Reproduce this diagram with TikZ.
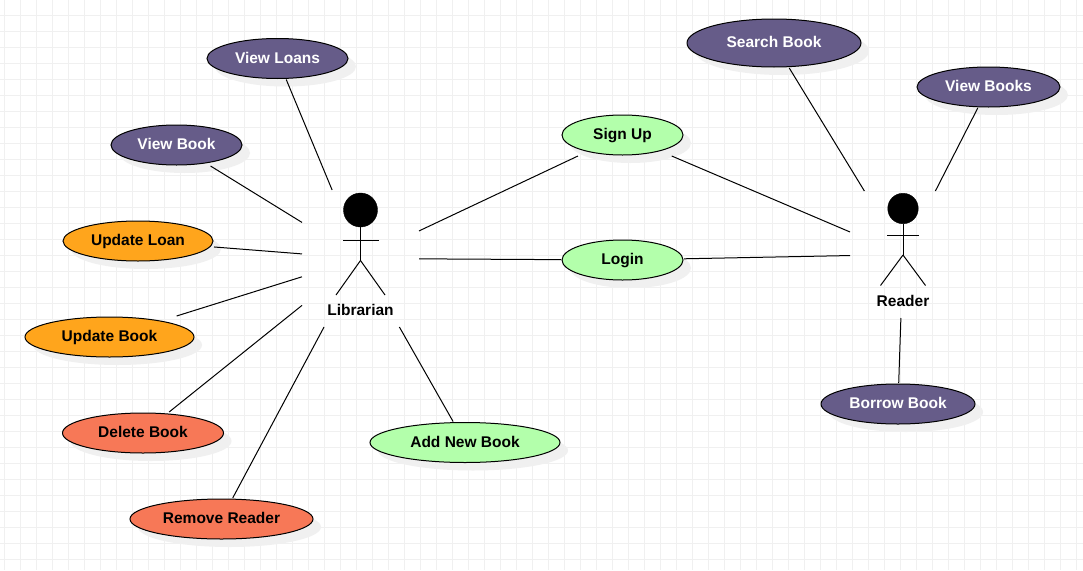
\documentclass[tikz,border=0pt]{standalone}
\usepackage{fontspec}
\setmainfont{Liberation Sans}
\usetikzlibrary{shapes.geometric,shadows,fit}
\definecolor{gridcol}{HTML}{F0F0F0}
\definecolor{shadowcol}{HTML}{F0F0F0}
\definecolor{purplecol}{HTML}{665C89}
\definecolor{orangecol}{HTML}{FFA51C}
\definecolor{tomatocol}{HTML}{F77857}
\definecolor{greencol}{HTML}{B3FFAB}
\tikzset{
  usecase/.style={ellipse, draw=black, line width=1pt, inner sep=0pt, minimum height=40pt,
    text height=11pt, text depth=2pt,
    font=\bfseries\fontsize{15.5}{17}\selectfont,
    drop shadow={shadow xshift=8pt, shadow yshift=-8pt, fill=shadowcol, opacity=1}},
  casebox/.style={rectangle, inner sep=0.5pt, outer sep=0pt},
  actorbox/.style={rectangle, inner sep=0pt, outer sep=0pt},
  actorhead/.style={circle, fill=black, draw=black, inner sep=0pt},
  actorlabel/.style={inner sep=0pt, font=\bfseries\fontsize{15.5}{17}\selectfont},
  link/.style={line width=1pt, draw=black},
  gridline/.style={line width=1pt, draw=gridcol}
}
\begin{document}
\begin{tikzpicture}[x=1pt,y=-1pt]
\useasboundingbox[fill=white] (0,0) rectangle (1083,570);
\foreach \gx in {0,...,67} {\draw[gridline] (4.5+16*\gx,0) -- (4.5+16*\gx,570);}
\foreach \gy in {0,...,34} {\draw[gridline] (0,15.5+16*\gy) -- (1083,15.5+16*\gy);}

\node[usecase, minimum width=141pt, fill=purplecol, text=white] (vloans) at (277.5,58.5){View Loans};
\node[usecase, minimum width=131pt, fill=purplecol, text=white] (vbook) at (176.5,145){View Book};
\node[usecase, minimum width=150pt, fill=orangecol] (uloan) at (138,241){Update Loan};
\node[usecase, minimum width=169pt, fill=orangecol] (ubook) at (109.5,337){Update Book};
\node[usecase, minimum width=161pt, fill=tomatocol] (dbook) at (143,433){Delete Book};
\node[usecase, minimum width=183pt, fill=tomatocol] (rreader) at (221.5,519){Remove Reader};
\node[usecase, minimum width=190pt, fill=greencol] (addbook) at (465,442.5){Add New Book};
\node[usecase, minimum width=121pt, fill=greencol] (signup) at (622.5,135){Sign Up};
\node[usecase, minimum width=121pt, fill=greencol] (login) at (622.5,260){Login};
\node[usecase, minimum width=174pt, minimum height=48pt, fill=purplecol, text=white] (sbook) at (774,43){Search Book};
\node[usecase, minimum width=143pt, fill=purplecol, text=white] (vbooks) at (988.5,87){View Books};
\node[usecase, minimum width=154pt, fill=purplecol, text=white] (bbook) at (898,404){Borrow Book};

\node[casebox, fit=(vloans)] (vloansbox){};
\node[casebox, fit=(vbook)] (vbookbox){};
\node[casebox, fit=(uloan)] (uloanbox){};
\node[casebox, fit=(ubook)] (ubookbox){};
\node[casebox, fit=(dbook)] (dbookbox){};
\node[casebox, fit=(rreader)] (rreaderbox){};
\node[casebox, fit=(addbook)] (addbookbox){};
\node[casebox, fit=(signup)] (signupbox){};
\node[casebox, fit=(login)] (loginbox){};
\node[casebox, fit=(sbook)] (sbookbox){};
\node[casebox, fit=(vbooks)] (vbooksbox){};
\node[casebox, fit=(bbook)] (bbookbox){};

\node[actorbox, minimum width=117pt, minimum height=137pt] (librarian) at (360.5,258.5){};
\node[actorhead, minimum size=34pt] (libhead) at (360.5,210){};
\coordinate (libhip) at (360.5,260.5);
\coordinate (libarml) at (343,240);
\coordinate (libarmr) at (378.5,240);
\coordinate (liblegl) at (336,295);
\coordinate (liblegr) at (385,295);
\node[actorlabel] (liblabel) at (360.5,310){Librarian};
\draw[link](libhead) -- (libhip);
\draw[link](libarml) -- (libarmr);
\draw[link](libhip) -- (liblegl);
\draw[link](libhip) -- (liblegr);

\node[actorbox, minimum width=106pt, minimum height=127pt] (reader) at (903,254.5){};
\node[actorhead, minimum size=30.5pt] (readhead) at (903,208.5){};
\coordinate (readhip) at (903,255);
\coordinate (readarml) at (887,235.5);
\coordinate (readarmr) at (919,235.5);
\coordinate (readlegl) at (880.5,285.5);
\coordinate (readlegr) at (925.5,285.5);
\node[actorlabel] (readlabel) at (903,301){Reader};
\draw[link](readhead) -- (readhip);
\draw[link](readarml) -- (readarmr);
\draw[link](readhip) -- (readlegl);
\draw[link](readhip) -- (readlegr);

\draw[link](vloansbox) -- (librarian);
\draw[link](vbookbox) -- (librarian);
\draw[link](uloanbox) -- (librarian);
\draw[link](ubookbox) -- (librarian);
\draw[link](dbookbox) -- (librarian);
\draw[link](rreaderbox) -- (librarian);
\draw[link](addbookbox) -- (librarian);
\draw[link](signupbox) -- (librarian);
\draw[link](loginbox) -- (librarian);
\draw[link](signupbox) -- (reader);
\draw[link](loginbox) -- (reader);
\draw[link](sbookbox) -- (reader);
\draw[link](vbooksbox) -- (reader);
\draw[link](bbookbox) -- (reader);

\end{tikzpicture}
\end{document}
